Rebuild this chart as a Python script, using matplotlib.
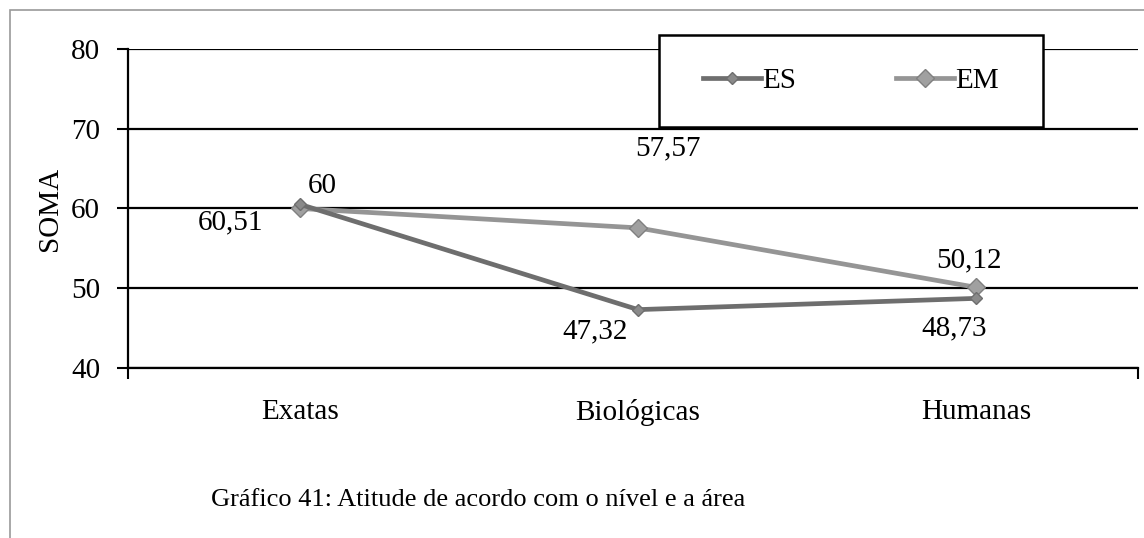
import matplotlib
matplotlib.use("Agg")
import matplotlib.pyplot as plt
from matplotlib.patches import Rectangle

categories = ["Exatas", "Biológicas", "Humanas"]
es_values = [60.51, 47.32, 48.73]
em_values = [60.0, 57.57, 50.12]
es_labels = ["60,51", "47,32", "48,73"]
em_labels = ["60", "57,57", "50,12"]
y_ticks = [40, 50, 60, 70, 80]
caption = "Gráfico 41: Atitude de acordo com o nível e a área"

plt.rcParams['font.family'] = ['Liberation Serif', 'DejaVu Serif']

fig = plt.figure(figsize=(11.44, 5.38), dpi=100)
W, H = 1144, 538
ax_l, ax_r, ax_t, ax_b = 128, 1138, 49, 368
ax = fig.add_axes([ax_l / W, 1 - ax_b / H, (ax_r - ax_l) / W, (ax_b - ax_t) / H])

x = list(range(len(categories)))
ax.plot(x, es_values, color="#6e6e6e", lw=3.4, marker="D", ms=6,
        mfc="#8a8a8a", mec="#6e6e6e", label="ES", zorder=4)
ax.plot(x, em_values, color="#959595", lw=3.4, marker="D", ms=9,
        mfc="#a0a0a0", mec="#808080", label="EM", zorder=3)

ax.set_xlim(-0.51, 2.48)
ax.set_ylim(40, 80)
ax.set_yticks(y_ticks)
ax.set_xticks(x)
ax.set_xticklabels(categories)
ax.tick_params(axis="y", labelsize=21, length=8, width=1.5, direction="out", pad=12)
ax.tick_params(axis="x", labelsize=21, length=0, pad=22)
ax.set_xticks([-0.51, 2.48], minor=True)
ax.tick_params(axis="x", which="minor", length=8, width=1.5, direction="out")

ax.grid(axis="y", color="black", lw=1.6)
for s in ["top", "right"]:
    ax.spines[s].set_visible(False)
ax.spines["left"].set_linewidth(1.6)
ax.spines["bottom"].set_linewidth(1.6)
ax.set_axisbelow(True)

ax.set_ylabel("SOMA", fontsize=21, labelpad=6)

es_off = [(-70, -18), (-43, -22), (-22, -30)]
em_off = [(22, 22), (30, 80), (-7, 27)]
for i in range(len(categories)):
    ax.annotate(es_labels[i], (x[i], es_values[i]), xytext=es_off[i],
                textcoords="offset pixels", ha="center", va="center", fontsize=21)
    ax.annotate(em_labels[i], (x[i], em_values[i]), xytext=em_off[i],
                textcoords="offset pixels", ha="center", va="center", fontsize=21)

# legend box (pixel geometry of the reference)
lb_l, lb_r, lb_t, lb_b = 659, 1043, 35, 127
bx0 = (lb_l - ax_l) / (ax_r - ax_l)
bw = (lb_r - lb_l) / (ax_r - ax_l)
by0 = (ax_b - lb_b) / (ax_b - ax_t)
bh = (lb_b - lb_t) / (ax_b - ax_t)
ax.add_patch(Rectangle((bx0, by0), bw, bh, transform=ax.transAxes, facecolor="white",
                       edgecolor="black", lw=1.8, clip_on=False, zorder=5))
leg = ax.legend(loc="center", bbox_to_anchor=(bx0, by0, bw, bh),
                ncol=2, frameon=False, fontsize=21,
                handlelength=2.0, columnspacing=3.4, handletextpad=0.05,
                borderaxespad=0)
leg.set_zorder(6)

fig.text(478 / W, 1 - 500 / H, caption, ha="center", va="center", fontsize=19)

fig.patches.append(Rectangle((10 / W, -0.1), 1.2, 1.1 - 10 / H, transform=fig.transFigure,
                             fill=False, edgecolor="#9a9a9a", lw=1.2))

fig.savefig("out.png", dpi=100)
